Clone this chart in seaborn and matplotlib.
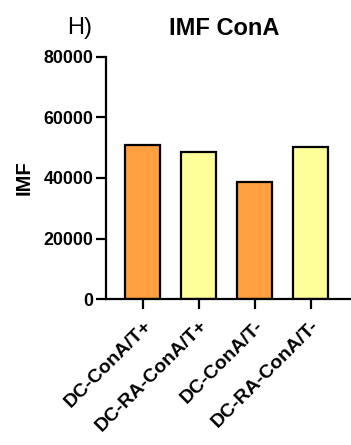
import matplotlib

matplotlib.use("Agg")
import matplotlib.pyplot as plt
import pandas as pd
import seaborn as sns

groups = ["DC-ConA/T+", "DC-RA-ConA/T+", "DC-ConA/T-", "DC-RA-ConA/T-"]
imf = [50900, 48500, 38700, 50200]
bar_colors = ["#FF9F40", "#FFFF99", "#FF9F40", "#FFFF99"]

sns.set_style("ticks")
plt.rcParams["font.family"] = ["Liberation Sans", "DejaVu Sans"]
plt.rcParams["text.color"] = "black"
plt.rcParams["axes.labelcolor"] = "black"
plt.rcParams["xtick.color"] = "black"
plt.rcParams["ytick.color"] = "black"

df = pd.DataFrame({"group": groups, "imf": imf})

fig = plt.figure(figsize=(3.51, 4.45), dpi=100)
ax = fig.add_axes([0.302, 0.328, 0.695, 0.544])
sns.barplot(
    data=df, x="group", y="imf", hue="group", palette=bar_colors,
    legend=False, width=0.625, edgecolor="black", linewidth=1.6,
    saturation=1, ax=ax,
)

ax.set_xlim(-0.66, 3.7)
ax.set_ylim(0, 80000)
ax.set_yticks([0, 20000, 40000, 60000, 80000])
ax.set_xlabel("")
ax.set_ylabel("IMF", fontsize=14.5, fontweight="bold", labelpad=7)
ax.tick_params(axis="both", width=1.6, length=7, direction="out")
ax.tick_params(axis="y", labelsize=12.8, pad=2)
ax.tick_params(axis="x", labelsize=14, pad=6)
for lbl in ax.get_yticklabels():
    lbl.set_fontweight("bold")
ax.set_xticks(range(len(groups)))
ax.set_xticklabels(groups, rotation=45, ha="right", rotation_mode="anchor",
                   fontweight="bold")
for side in ["left", "bottom"]:
    ax.spines[side].set_linewidth(1.6)
    ax.spines[side].set_color("black")
sns.despine(ax=ax)

fig.text(0.64, 0.937, "IMF ConA", fontsize=17, fontweight="bold",
         ha="center", va="center")
fig.text(0.228, 0.937, "H)", fontsize=17, ha="center", va="center")

fig.savefig("out.png", dpi=100)
